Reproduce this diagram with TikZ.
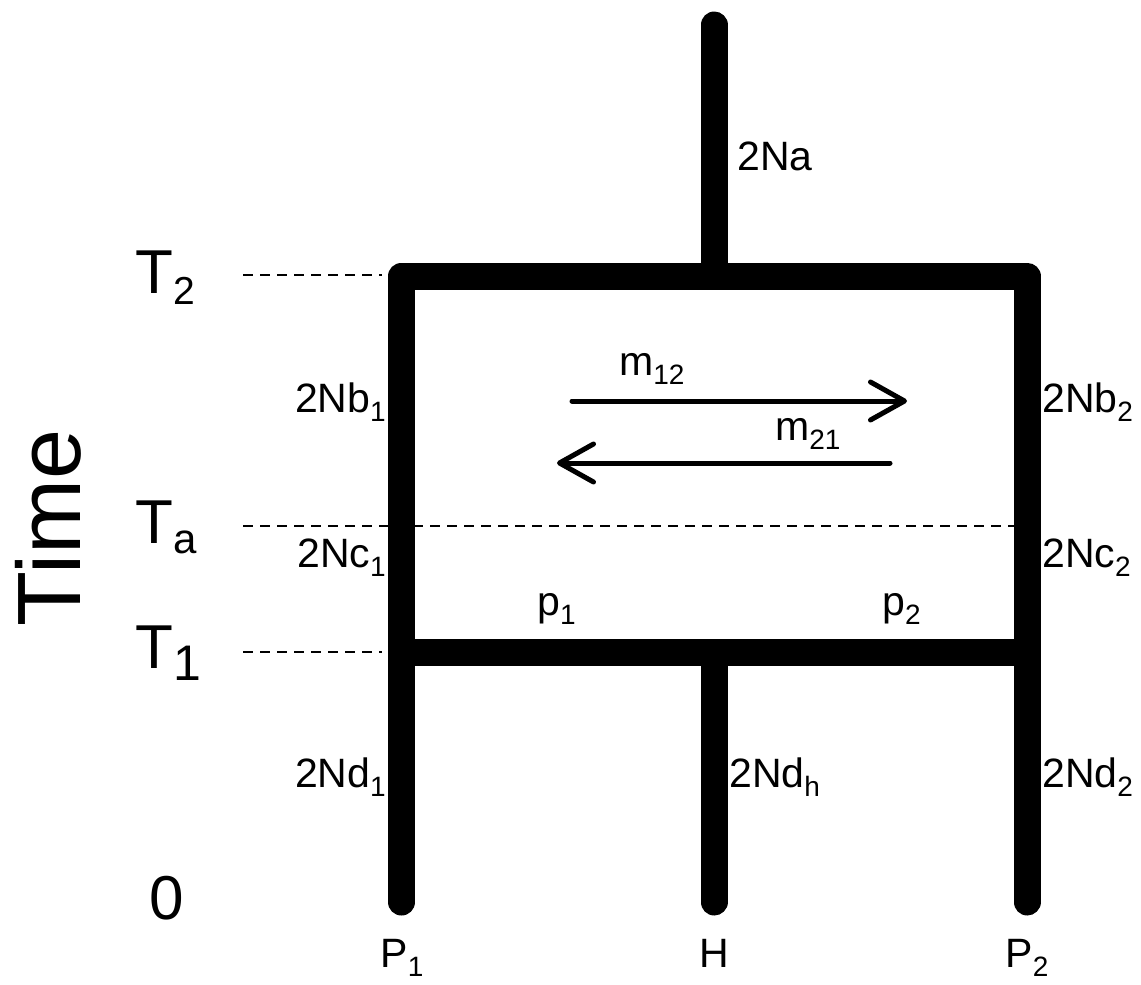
\documentclass[tikz,border=0pt]{standalone}
\usepackage{fontspec}
\setmainfont{Liberation Sans}
\usetikzlibrary{arrows.meta}
\newcommand{\lsub}[2]{#1\raisebox{-9pt}{\fontsize{28}{28}\selectfont #2}}
\newcommand{\tsub}[4]{T\raisebox{-#3pt}{\fontsize{#2}{#2}\selectfont #1}}
\tikzset{
  bar/.style={line width=27pt, line cap=round, line join=round},
  guide/.style={line width=2pt, dash pattern=on 10pt off 7pt},
  mig/.style={line width=5pt, line cap=round, -{Straight Barb[length=34pt,width=38pt,round]}},
  lab/.style={font=\fontsize{41}{41}\selectfont, inner sep=0pt},
  tlab/.style={font=\fontsize{62}{62}\selectfont, inner sep=0pt},
}
\begin{document}
\begin{tikzpicture}[x=1pt,y=-1pt]
\useasboundingbox (0,0) rectangle (1141,985);
% skeleton points
\coordinate (top) at (714,25);
\coordinate (topj) at (714,270);
\coordinate (tl) at (401.5,276);
\coordinate (tr) at (1027,276);
\coordinate (bl) at (401.5,652);
\coordinate (br) at (1027,652);
\coordinate (hj) at (714,660);
\coordinate (l0) at (401.5,902);
\coordinate (h0) at (714,902);
\coordinate (r0) at (1027,902);
% guide lines
\coordinate (g2a) at (243,275); \coordinate (g2b) at (382,275);
\coordinate (gaa) at (243,526); \coordinate (gab) at (1020,526);
\coordinate (g1a) at (243,652); \coordinate (g1b) at (382,652);
\draw[guide] (g2a) -- (g2b);
\draw[guide] (gaa) -- (gab);
\draw[guide] (g1a) -- (g1b);
% tree
\draw[bar] (top) -- (topj);
\draw[bar] (hj) -- (h0);
\draw[bar] (l0) -- (tl) -- (tr) -- (r0);
\draw[bar] (bl) -- (br);
% migration arrows
\coordinate (a1s) at (572,401); \coordinate (a1e) at (907,401);
\coordinate (a2s) at (890,463); \coordinate (a2e) at (557,463);
\draw[mig] (a1s) -- (a1e);
\draw[mig] (a2s) -- (a2e);
\node[lab, anchor=base west] (m12) at (619,375) {\lsub{m}{12}};
\node[lab, anchor=base west] (m21) at (775,440) {\lsub{m}{21}};
% branch labels
\node[lab, anchor=base west] (na) at (737,170) {2Na};
\node[lab, anchor=base east] (nb1) at (386,412) {\lsub{2Nb}{1}};
\node[lab, anchor=base west] (nb2) at (1042,412) {\lsub{2Nb}{2}};
\node[lab, anchor=base east] (nc1) at (386,567) {\lsub{2Nc}{1}};
\node[lab, anchor=base west] (nc2) at (1042,567) {\lsub{2Nc}{2}};
\node[lab, anchor=base east] (nd1) at (386,787) {\lsub{2Nd}{1}};
\node[lab, anchor=base west] (ndh) at (729,787) {\lsub{2Nd}{h}};
\node[lab, anchor=base west] (nd2) at (1042,787) {\lsub{2Nd}{2}};
\node[lab, anchor=base west] (p1) at (537,615) {\lsub{p}{1}};
\node[lab, anchor=base west] (p2) at (882,615) {\lsub{p}{2}};
% population labels
\node[lab, anchor=base] (P1) at (402,967) {\lsub{P}{1}};
\node[lab, anchor=base] (H) at (714,967) {H};
\node[lab, anchor=base] (P2) at (1027,967) {\lsub{P}{2}};
% time labels
\node[tlab, anchor=base west] (T2) at (135,293) {\tsub{2}{39}{11}{}};
\node[tlab, anchor=base west] (Ta) at (135,543) {\tsub{a}{42}{10}{}};
\node[tlab, anchor=base west] (T1) at (135,668) {\tsub{1}{50}{12}{}};
\node[tlab, anchor=base west] (t0) at (149,919) {0};
\node[font=\fontsize{90}{90}\selectfont, inner sep=0pt, rotate=90] (time) at (48,528) {Time};
\end{tikzpicture}
\end{document}
